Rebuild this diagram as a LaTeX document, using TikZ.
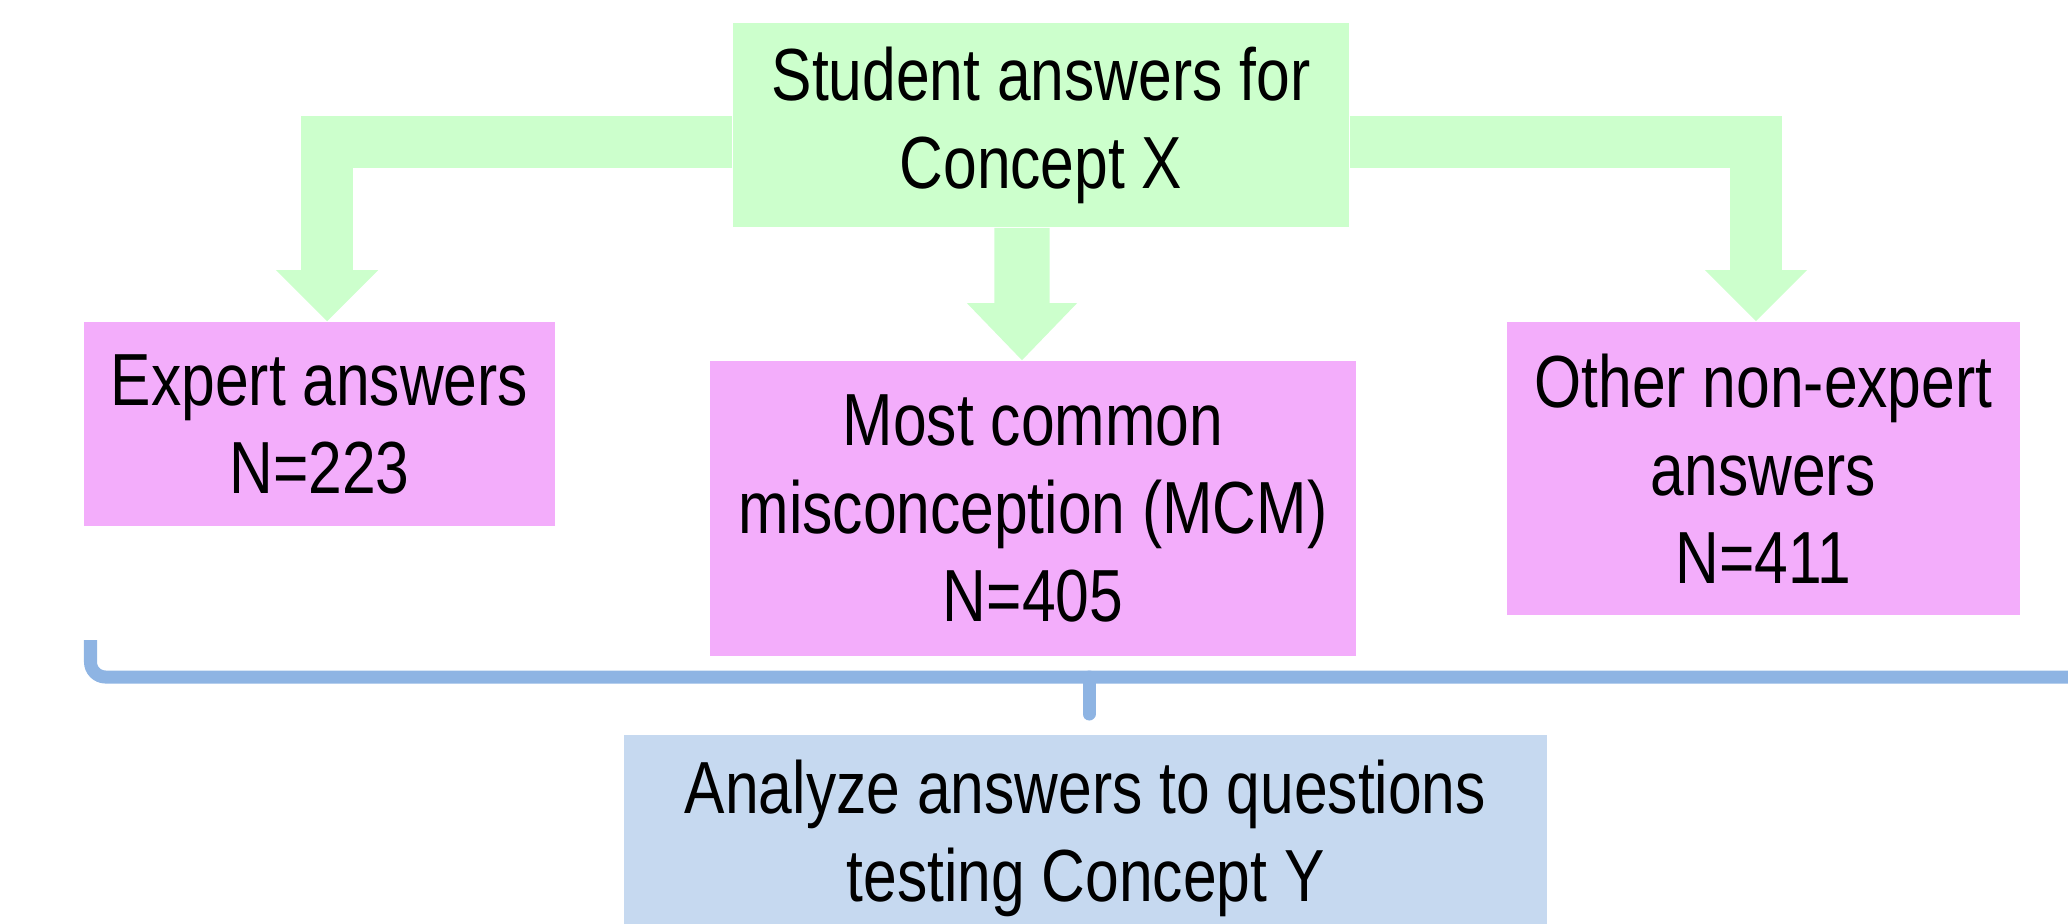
\documentclass[tikz,border=0pt]{standalone}
\usepackage{fontspec}
\setmainfont[FakeStretch=0.82]{Liberation Sans}
\usetikzlibrary{arrows.meta}
\definecolor{gfill}{RGB}{204,255,204}
\definecolor{pfill}{RGB}{243,173,251}
\definecolor{bfill}{RGB}{198,217,240}
\definecolor{bline}{RGB}{142,180,227}
\tikzset{
  boxbase/.style={inner sep=0pt, align=center, font=\fontsize{21}{25}\selectfont},
  gbox/.style={boxbase, fill=gfill},
  pbox/.style={boxbase, fill=pfill},
  bbox/.style={boxbase, fill=bfill},
  sidearrow/.style={draw=gfill, line width=0.52cm, line join=miter,
    -{Triangle[width=1.02cm,length=0.51cm,line width=0pt]}},
  midarrow/.style={draw=gfill, line width=0.55cm,
    -{Triangle[width=1.10cm,length=0.57cm,line width=0pt]}},
  bracket/.style={draw=bline, line width=0.13cm, rounded corners=0.15cm}
}
\begin{document}
\begin{tikzpicture}[x=0.01cm,y=-0.01cm]
\useasboundingbox (0,0) rectangle (2068,923);
\clip (0,0) rectangle (2068,923);
\node[gbox, minimum width=6.16cm, minimum height=2.04cm] (src) at (1041,125) {Student answers for\\Concept X};
\node[pbox, minimum width=4.71cm, minimum height=2.04cm] (exp) at (319.5,424) {Expert answers\\N=223};
\node[pbox, minimum width=6.46cm, minimum height=2.95cm] (mcm) at (1033,508.5) {Most common\\misconception (MCM)\\N=405};
\node[pbox, minimum width=5.13cm, minimum height=2.93cm] (oth) at (1763.5,468.5) {Other non-expert\\answers\\N=411};
\node[bbox, minimum width=9.23cm, minimum height=2.06cm] (ana) at (1085.5,838) {Analyze answers to questions\\testing Concept Y};
% block arrows
\draw[sidearrow] ([yshift=-0.17cm]src.west) -| ([xshift=0.075cm]exp.north);
\draw[sidearrow] ([yshift=-0.17cm]src.east) -| ([xshift=-0.075cm]oth.north);
\draw[midarrow] ([xshift=-0.19cm]src.south) -- ([xshift=-0.11cm]mcm.north);
% bracket
\coordinate (bl) at (90.5,640);
\coordinate (br) at (2075,677);
\coordinate (tk) at (1089,677);
\draw[bracket] (bl) |- (br);
\draw[draw=bline, line width=0.13cm, line cap=round] (tk) -- (1089,714);
\end{tikzpicture}
\end{document}
